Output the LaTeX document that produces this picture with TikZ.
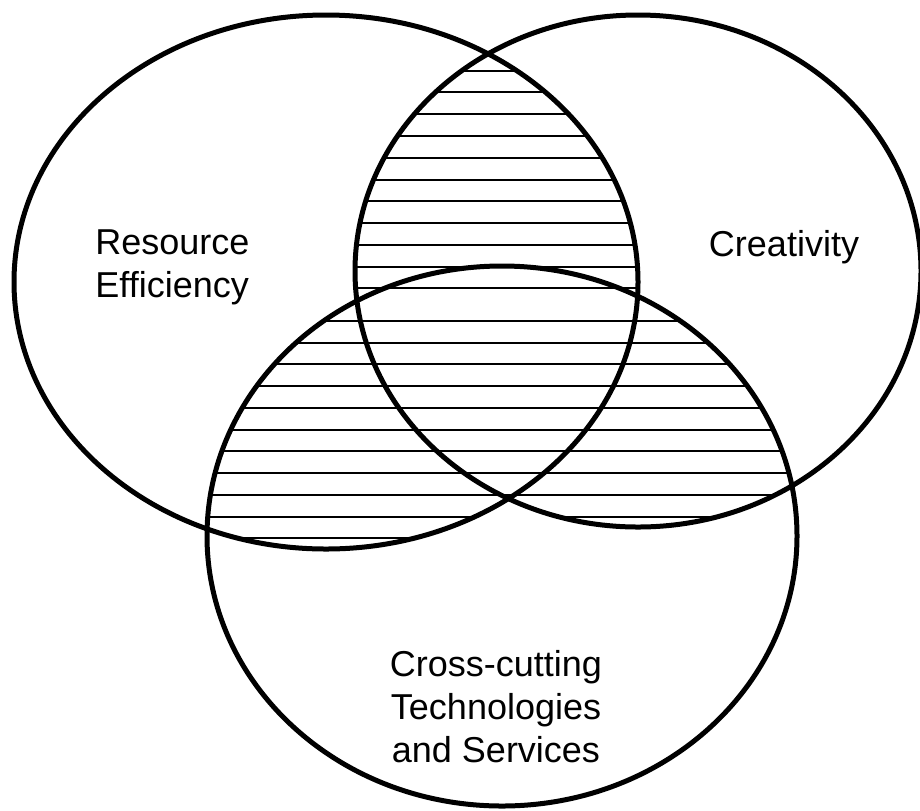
\documentclass[tikz,border=0pt]{standalone}
\usepackage{fontspec}
\setmainfont{Liberation Sans}
\begin{document}
\begin{tikzpicture}[x=0.5pt,y=-0.5pt,
  ring/.style={line width=2.5pt},
  hatch/.style={line width=1pt},
  lbl/.style={inner sep=0pt, font=\fontsize{18}{21.5}\selectfont}]
\useasboundingbox (0,0) rectangle (920,810);
\def\ellA{(326,282) ellipse [x radius=156pt, y radius=133.5pt]}
\def\ellB{(638,271) ellipse [x radius=141.5pt, y radius=128pt]}
\def\ellC{(502,536) ellipse [x radius=147.5pt, y radius=135pt]}
\newcommand\myhatch{%
  \foreach \k in {0,...,10}{\draw[hatch] (0,{70.7+21.76*\k}) -- (920,{70.7+21.76*\k});}%
  \foreach \k in {0,...,10}{\draw[hatch] (0,{321+21.73*\k}) -- (920,{321+21.73*\k});}}
\begin{scope}\clip \ellA; \clip \ellB; \myhatch\end{scope}
\begin{scope}\clip \ellA; \clip \ellC; \myhatch\end{scope}
\begin{scope}\clip \ellB; \clip \ellC; \myhatch\end{scope}
\draw[ring] \ellA;
\draw[ring] \ellB;
\draw[ring] \ellC;
\node[lbl, align=left, anchor=west] (re) at (95,267) {Resource\\Efficiency};
\node[lbl, anchor=base] (cr) at (784,256) {Creativity};
\node[lbl, align=center] (ct) at (496,707) {Cross-cutting\\Technologies\\and Services};
\end{tikzpicture}
\end{document}
